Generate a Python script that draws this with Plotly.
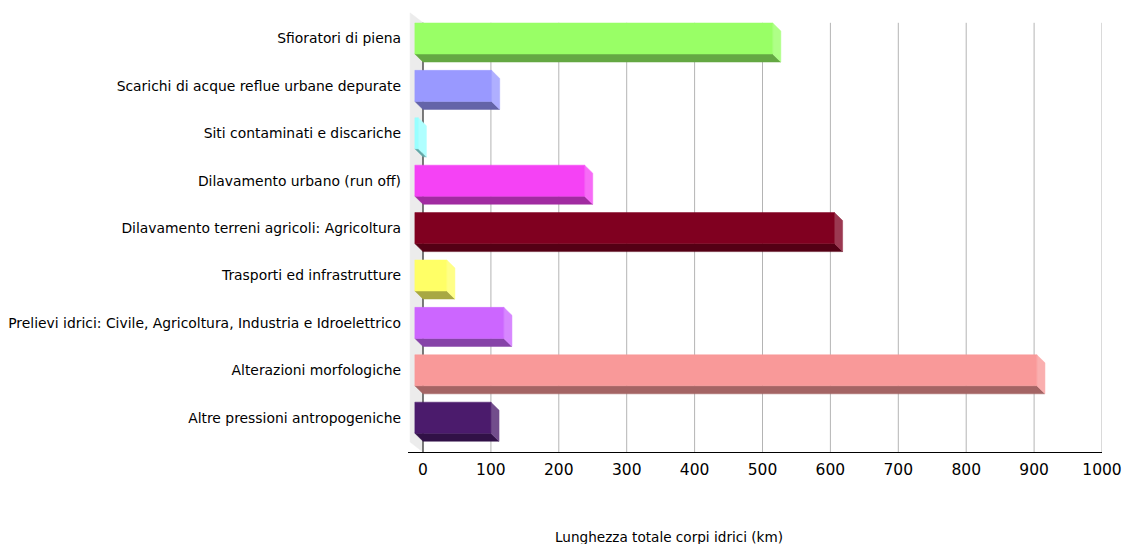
import plotly.graph_objects as go

categories = [
    "Sfioratori di piena",
    "Scarichi di acque reflue urbane depurate",
    "Siti contaminati e discariche",
    "Dilavamento urbano (run off)",
    "Dilavamento terreni agricoli: Agricoltura",
    "Trasporti ed infrastrutture",
    "Prelievi idrici: Civile, Agricoltura, Industria e Idroelettrico",
    "Alterazioni morfologiche",
    "Altre pressioni antropogeniche",
]
values = [527, 113, 5, 250, 618, 47, 131, 916, 112]
colors = ["#99FF66", "#9999FF", "#99FFFF", "#F542F5", "#800020",
          "#FFFF66", "#CC66FF", "#F99999", "#4B1B6C"]
x_ticks = [0, 100, 200, 300, 400, 500, 600, 700, 800, 900, 1000]
x_title = "Lunghezza totale corpi idrici (km)"

# 3D styling (offsets in axis units)
DX = 12.0      # depth offset along x
DY = 0.169     # depth offset along y (category units)
H = 0.655      # bar thickness
DXW = 19.0     # wall depth
DYW = 0.21
N = len(categories)
Y_TOP = -0.228
Y_BOT = 9.055


def hex2rgb(h):
    h = h.lstrip("#")
    return tuple(int(h[i:i + 2], 16) for i in (0, 2, 4))


def darker(h, f=0.66):
    r, g, b = hex2rgb(h)
    return "rgb(%d,%d,%d)" % (r * f, g * f, b * f)


def lighter(h, f=0.22):
    r, g, b = hex2rgb(h)
    return "rgb(%d,%d,%d)" % (r + (255 - r) * f, g + (255 - g) * f, b + (255 - b) * f)


def poly(xs, ys, color):
    return go.Scatter(x=xs + [xs[0]], y=ys + [ys[0]], fill="toself",
                      fillcolor=color, mode="lines",
                      line=dict(width=0.5, color=color),
                      hoverinfo="skip", showlegend=False)


fig = go.Figure()

# left wall
fig.add_trace(poly([0, -DXW, -DXW, 0], [0, -DYW, Y_BOT - DYW, Y_BOT], "#ececec"))

# gridlines
gx, gy = [], []
for t in x_ticks[1:]:
    gx += [t, t, None]
    gy += [0, Y_BOT, None]
fig.add_trace(go.Scatter(x=gx, y=gy, mode="lines",
                         line=dict(color="#b4b4b4", width=1),
                         hoverinfo="skip", showlegend=False))
fig.add_trace(go.Scatter(x=[0, 0], y=[0, Y_BOT], mode="lines",
                         line=dict(color="#000000", width=1),
                         hoverinfo="skip", showlegend=False))

front_y = []
for i, (v, c) in enumerate(zip(values, colors)):
    yc = i + 0.5
    yt_b, yb_b = yc - H / 2, yc + H / 2
    yt_f, yb_f = yt_b - DY, yb_b - DY
    front_y.append(yc - DY)
    # bottom face
    fig.add_trace(poly([-DX, v - DX, v, 0], [yb_f, yb_f, yb_b, yb_b], darker(c)))
    # side face
    fig.add_trace(poly([v - DX, v, v, v - DX], [yt_f, yt_b, yb_b, yb_f], lighter(c)))
    # front face
    fig.add_trace(poly([-DX, v - DX, v - DX, -DX], [yt_f, yt_f, yb_f, yb_f], c))

fig.update_layout(
    width=1124, height=544,
    margin=dict(l=408, r=22, t=12, b=92),
    paper_bgcolor="white", plot_bgcolor="white",
    font=dict(family="DejaVu Sans", size=14, color="#000000"),
    xaxis=dict(range=[-22.1, 1000], tickvals=x_ticks, showgrid=False,
               zeroline=False, showline=True, linecolor="#000000", linewidth=1,
               ticks="", tickfont=dict(size=15.5), ticklabelstandoff=3,
               automargin=False),
    yaxis=dict(range=[Y_BOT, Y_TOP], tickvals=front_y, ticktext=categories,
               showgrid=False, zeroline=False, showline=False, ticks="",
               tickfont=dict(size=13.9), ticklabelstandoff=6, automargin=False),
    annotations=[dict(text=x_title, xref="paper", yref="paper",
                      x=0.376, y=-0.193, xanchor="center", yanchor="middle",
                      showarrow=False, font=dict(size=13.6))],
)

fig.write_html("out.html")
